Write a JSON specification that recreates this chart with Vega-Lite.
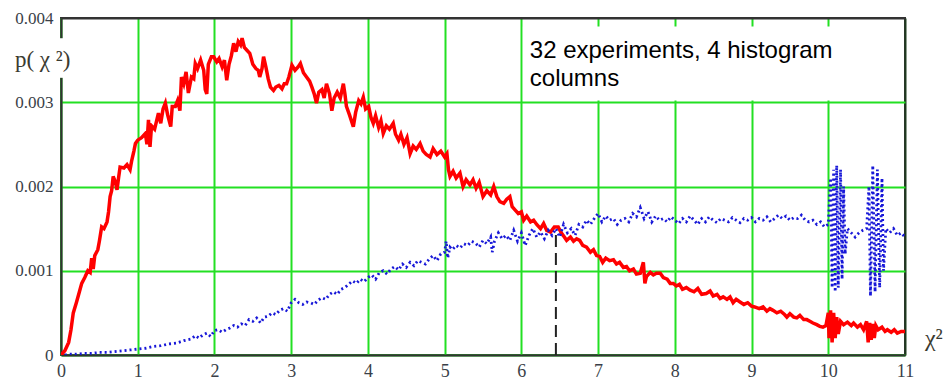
{
  "$schema": "https://vega.github.io/schema/vega-lite/v6.json",
  "width": 844,
  "height": 337,
  "autosize": "none",
  "padding": {"left": 61, "top": 18, "right": 40, "bottom": 28},
  "background": "white",
  "config": {
    "view": {"stroke": "#333333", "strokeWidth": 2},
    "axis": {
      "labelFont": "Liberation Serif, Times New Roman, serif",
      "labelFontSize": 17,
      "labelColor": "#3a3f48",
      "ticks": false,
      "domainColor": "#333333",
      "domainWidth": 2,
      "gridWidth": 2,
      "title": null
    }
  },
  "datasets": {
    "red": [
      {"x":0,"p":0},{"x":0.05,"p":0.00005},{"x":0.1,"p":0.00015},{"x":0.13,"p":0.0003},{"x":0.16,"p":0.0005},{"x":0.2,"p":0.00062},{"x":0.24,"p":0.00075},{"x":0.27,"p":0.00085},{"x":0.31,"p":0.00092},{"x":0.35,"p":0.001},{"x":0.38,"p":0.00098},{"x":0.4,"p":0.00115},{"x":0.42,"p":0.00102},{"x":0.44,"p":0.00118},{"x":0.48,"p":0.00125},{"x":0.5,"p":0.00135},{"x":0.53,"p":0.00152},{"x":0.56,"p":0.0015},{"x":0.6,"p":0.00158},{"x":0.62,"p":0.0017},{"x":0.64,"p":0.00188},{"x":0.66,"p":0.00195},{"x":0.68,"p":0.00212},{"x":0.71,"p":0.00205},{"x":0.73,"p":0.00196},{"x":0.75,"p":0.0021},{"x":0.77,"p":0.00223},{"x":0.82,"p":0.00222},{"x":0.86,"p":0.00226},{"x":0.9,"p":0.0022},{"x":0.92,"p":0.0023},{"x":0.95,"p":0.00242},{"x":0.97,"p":0.00251},{"x":1.0,"p":0.00255},{"x":1.05,"p":0.00258},{"x":1.1,"p":0.00263},{"x":1.12,"p":0.0025},{"x":1.14,"p":0.00279},{"x":1.16,"p":0.00247},{"x":1.18,"p":0.00272},{"x":1.22,"p":0.00268},{"x":1.27,"p":0.00287},{"x":1.3,"p":0.00275},{"x":1.33,"p":0.00292},{"x":1.36,"p":0.00299},{"x":1.39,"p":0.00285},{"x":1.43,"p":0.00271},{"x":1.45,"p":0.00295},{"x":1.49,"p":0.00295},{"x":1.52,"p":0.00302},{"x":1.55,"p":0.0029},{"x":1.57,"p":0.0033},{"x":1.6,"p":0.00322},{"x":1.63,"p":0.00336},{"x":1.66,"p":0.00311},{"x":1.7,"p":0.0033},{"x":1.73,"p":0.00328},{"x":1.75,"p":0.00346},{"x":1.78,"p":0.0034},{"x":1.82,"p":0.0035},{"x":1.86,"p":0.00338},{"x":1.88,"p":0.00315},{"x":1.9,"p":0.0031},{"x":1.92,"p":0.00345},{"x":1.96,"p":0.00354},{"x":1.99,"p":0.00354},{"x":2.03,"p":0.00348},{"x":2.06,"p":0.00352},{"x":2.1,"p":0.00342},{"x":2.13,"p":0.0035},{"x":2.16,"p":0.00326},{"x":2.19,"p":0.00345},{"x":2.22,"p":0.00355},{"x":2.25,"p":0.0037},{"x":2.28,"p":0.0036},{"x":2.31,"p":0.00372},{"x":2.34,"p":0.00368},{"x":2.36,"p":0.00376},{"x":2.39,"p":0.00365},{"x":2.42,"p":0.00362},{"x":2.46,"p":0.00358},{"x":2.5,"p":0.00345},{"x":2.54,"p":0.0034},{"x":2.57,"p":0.00338},{"x":2.59,"p":0.0033},{"x":2.62,"p":0.0034},{"x":2.64,"p":0.00354},{"x":2.67,"p":0.00342},{"x":2.7,"p":0.00328},{"x":2.73,"p":0.00318},{"x":2.77,"p":0.00314},{"x":2.8,"p":0.00318},{"x":2.84,"p":0.0032},{"x":2.88,"p":0.00316},{"x":2.91,"p":0.00322},{"x":2.94,"p":0.00322},{"x":2.97,"p":0.0033},{"x":3.01,"p":0.00344},{"x":3.05,"p":0.00338},{"x":3.09,"p":0.00342},{"x":3.12,"p":0.00346},{"x":3.16,"p":0.00335},{"x":3.2,"p":0.0033},{"x":3.24,"p":0.00325},{"x":3.27,"p":0.00318},{"x":3.3,"p":0.0031},{"x":3.33,"p":0.00299},{"x":3.36,"p":0.00312},{"x":3.4,"p":0.00315},{"x":3.43,"p":0.00305},{"x":3.46,"p":0.00322},{"x":3.5,"p":0.0031},{"x":3.53,"p":0.0029},{"x":3.56,"p":0.00305},{"x":3.6,"p":0.00312},{"x":3.64,"p":0.00305},{"x":3.68,"p":0.00322},{"x":3.7,"p":0.0031},{"x":3.72,"p":0.00295},{"x":3.76,"p":0.00285},{"x":3.81,"p":0.00271},{"x":3.84,"p":0.00288},{"x":3.88,"p":0.00302},{"x":3.91,"p":0.00298},{"x":3.94,"p":0.00306},{"x":3.97,"p":0.00292},{"x":4.01,"p":0.00295},{"x":4.04,"p":0.00282},{"x":4.07,"p":0.00275},{"x":4.1,"p":0.00284},{"x":4.14,"p":0.0027},{"x":4.17,"p":0.00278},{"x":4.2,"p":0.00263},{"x":4.24,"p":0.00272},{"x":4.28,"p":0.00268},{"x":4.33,"p":0.00275},{"x":4.36,"p":0.00262},{"x":4.4,"p":0.00255},{"x":4.43,"p":0.00262},{"x":4.47,"p":0.0025},{"x":4.51,"p":0.00258},{"x":4.55,"p":0.00239},{"x":4.59,"p":0.00248},{"x":4.63,"p":0.00244},{"x":4.68,"p":0.00251},{"x":4.72,"p":0.00242},{"x":4.76,"p":0.00238},{"x":4.81,"p":0.00235},{"x":4.85,"p":0.00245},{"x":4.9,"p":0.00238},{"x":4.95,"p":0.00242},{"x":5.0,"p":0.00235},{"x":5.03,"p":0.00239},{"x":5.05,"p":0.0022},{"x":5.07,"p":0.00212},{"x":5.11,"p":0.00218},{"x":5.15,"p":0.0021},{"x":5.2,"p":0.00216},{"x":5.24,"p":0.002},{"x":5.28,"p":0.00208},{"x":5.33,"p":0.00202},{"x":5.37,"p":0.00208},{"x":5.41,"p":0.00198},{"x":5.45,"p":0.00205},{"x":5.5,"p":0.00188},{"x":5.55,"p":0.00195},{"x":5.6,"p":0.0019},{"x":5.64,"p":0.002},{"x":5.68,"p":0.00188},{"x":5.72,"p":0.00182},{"x":5.77,"p":0.0018},{"x":5.81,"p":0.00185},{"x":5.85,"p":0.00188},{"x":5.88,"p":0.00176},{"x":5.92,"p":0.00172},{"x":5.96,"p":0.00168},{"x":6.0,"p":0.0017},{"x":6.03,"p":0.0016},{"x":6.07,"p":0.00165},{"x":6.12,"p":0.00158},{"x":6.16,"p":0.0016},{"x":6.2,"p":0.00155},{"x":6.25,"p":0.0015},{"x":6.29,"p":0.00156},{"x":6.33,"p":0.00148},{"x":6.38,"p":0.00146},{"x":6.43,"p":0.00152},{"x":6.48,"p":0.00152},{"x":6.52,"p":0.00145},{"x":6.56,"p":0.0014},{"x":6.59,"p":0.00136},{"x":6.64,"p":0.0014},{"x":6.68,"p":0.00135},{"x":6.72,"p":0.00138},{"x":6.76,"p":0.00136},{"x":6.8,"p":0.0013},{"x":6.85,"p":0.00128},{"x":6.9,"p":0.00122},{"x":6.94,"p":0.00125},{"x":6.98,"p":0.00118},{"x":7.02,"p":0.00117},{"x":7.06,"p":0.0011},{"x":7.1,"p":0.00115},{"x":7.15,"p":0.00112},{"x":7.2,"p":0.00113},{"x":7.24,"p":0.00108},{"x":7.28,"p":0.0011},{"x":7.33,"p":0.00104},{"x":7.37,"p":0.00105},{"x":7.41,"p":0.001},{"x":7.46,"p":0.00102},{"x":7.5,"p":0.00096},{"x":7.55,"p":0.00097},{"x":7.59,"p":0.0011},{"x":7.61,"p":0.00085},{"x":7.63,"p":0.00093},{"x":7.68,"p":0.00098},{"x":7.72,"p":0.00095},{"x":7.76,"p":0.00097},{"x":7.81,"p":0.00097},{"x":7.85,"p":0.00092},{"x":7.9,"p":0.0009},{"x":7.94,"p":0.00085},{"x":7.98,"p":0.00085},{"x":8.02,"p":0.00082},{"x":8.06,"p":0.00084},{"x":8.1,"p":0.00078},{"x":8.15,"p":0.0008},{"x":8.2,"p":0.00077},{"x":8.25,"p":0.00075},{"x":8.3,"p":0.00079},{"x":8.35,"p":0.00072},{"x":8.41,"p":0.00073},{"x":8.46,"p":0.00076},{"x":8.5,"p":0.0007},{"x":8.55,"p":0.00072},{"x":8.59,"p":0.00067},{"x":8.63,"p":0.00069},{"x":8.68,"p":0.00066},{"x":8.72,"p":0.00069},{"x":8.76,"p":0.00062},{"x":8.8,"p":0.00066},{"x":8.85,"p":0.00063},{"x":8.9,"p":0.0006},{"x":8.95,"p":0.00062},{"x":9.0,"p":0.00058},{"x":9.04,"p":0.00057},{"x":9.1,"p":0.00055},{"x":9.15,"p":0.00057},{"x":9.2,"p":0.00052},{"x":9.24,"p":0.00055},{"x":9.28,"p":0.00053},{"x":9.33,"p":0.0005},{"x":9.38,"p":0.00052},{"x":9.43,"p":0.00048},{"x":9.46,"p":0.00045},{"x":9.5,"p":0.00049},{"x":9.55,"p":0.00045},{"x":9.59,"p":0.00044},{"x":9.63,"p":0.00047},{"x":9.68,"p":0.00042},{"x":9.72,"p":0.00042},{"x":9.76,"p":0.0004},{"x":9.8,"p":0.00038},{"x":9.85,"p":0.00036},{"x":9.89,"p":0.00034},{"x":9.93,"p":0.00033},{"x":9.97,"p":0.00035},{"x":10.0,"p":0.0005},{"x":10.01,"p":0.0002},{"x":10.03,"p":0.00053},{"x":10.05,"p":0.00015},{"x":10.07,"p":0.0005},{"x":10.09,"p":0.0002},{"x":10.11,"p":0.00045},{"x":10.13,"p":0.00025},{"x":10.16,"p":0.0004},{"x":10.2,"p":0.00036},{"x":10.25,"p":0.00039},{"x":10.3,"p":0.00035},{"x":10.33,"p":0.00038},{"x":10.38,"p":0.00033},{"x":10.42,"p":0.00036},{"x":10.46,"p":0.0003},{"x":10.5,"p":0.0004},{"x":10.52,"p":0.00015},{"x":10.54,"p":0.00038},{"x":10.56,"p":0.00018},{"x":10.58,"p":0.00037},{"x":10.6,"p":0.0002},{"x":10.62,"p":0.00035},{"x":10.65,"p":0.0003},{"x":10.7,"p":0.00033},{"x":10.74,"p":0.00028},{"x":10.77,"p":0.0003},{"x":10.82,"p":0.00027},{"x":10.86,"p":0.0003},{"x":10.9,"p":0.00026},{"x":10.95,"p":0.00028},{"x":11.0,"p":0.00028}
    ],
    "blue": [
      {"x":0.05,"p":0.0},{"x":0.1,"p":0.00001},{"x":0.2,"p":0.00001},{"x":0.3,"p":0.00002},{"x":0.4,"p":0.00002},{"x":0.5,"p":0.00003},{"x":0.6,"p":0.00003},{"x":0.7,"p":0.00004},{"x":0.8,"p":0.00005},{"x":0.9,"p":0.00006},{"x":1.0,"p":0.00007},{"x":1.1,"p":0.00008},{"x":1.2,"p":0.0001},{"x":1.3,"p":0.00011},{"x":1.4,"p":0.00013},{"x":1.5,"p":0.00014},{"x":1.6,"p":0.00017},{"x":1.7,"p":0.00019},{"x":1.75,"p":0.00023},{"x":1.8,"p":0.0002},{"x":1.85,"p":0.00024},{"x":1.9,"p":0.00026},{"x":1.95,"p":0.00022},{"x":2.0,"p":0.00029},{"x":2.05,"p":0.0003},{"x":2.1,"p":0.00027},{"x":2.15,"p":0.0003},{"x":2.2,"p":0.00032},{"x":2.25,"p":0.00035},{"x":2.3,"p":0.00033},{"x":2.35,"p":0.00037},{"x":2.4,"p":0.00035},{"x":2.45,"p":0.00042},{"x":2.5,"p":0.0004},{"x":2.55,"p":0.00044},{"x":2.6,"p":0.00038},{"x":2.65,"p":0.00045},{"x":2.7,"p":0.00046},{"x":2.75,"p":0.0005},{"x":2.8,"p":0.00048},{"x":2.85,"p":0.00053},{"x":2.9,"p":0.00055},{"x":2.95,"p":0.00052},{"x":3.0,"p":0.00062},{"x":3.05,"p":0.00066},{"x":3.1,"p":0.00062},{"x":3.15,"p":0.0006},{"x":3.2,"p":0.00063},{"x":3.25,"p":0.00062},{"x":3.3,"p":0.0006},{"x":3.35,"p":0.00065},{"x":3.4,"p":0.00068},{"x":3.45,"p":0.00066},{"x":3.5,"p":0.00072},{"x":3.55,"p":0.00075},{"x":3.6,"p":0.00072},{"x":3.65,"p":0.00078},{"x":3.7,"p":0.0008},{"x":3.75,"p":0.00084},{"x":3.8,"p":0.00088},{"x":3.85,"p":0.00085},{"x":3.9,"p":0.0009},{"x":3.95,"p":0.00087},{"x":4.0,"p":0.00092},{"x":4.05,"p":0.00095},{"x":4.1,"p":0.0009},{"x":4.15,"p":0.00098},{"x":4.2,"p":0.001},{"x":4.25,"p":0.00096},{"x":4.3,"p":0.00102},{"x":4.35,"p":0.00105},{"x":4.4,"p":0.00101},{"x":4.45,"p":0.00108},{"x":4.5,"p":0.00104},{"x":4.55,"p":0.0011},{"x":4.6,"p":0.00106},{"x":4.65,"p":0.00112},{"x":4.7,"p":0.0011},{"x":4.75,"p":0.00108},{"x":4.8,"p":0.00114},{"x":4.85,"p":0.00118},{"x":4.9,"p":0.00112},{"x":4.95,"p":0.0012},{"x":5.0,"p":0.00122},{"x":5.02,"p":0.00135},{"x":5.04,"p":0.00115},{"x":5.07,"p":0.00128},{"x":5.1,"p":0.00125},{"x":5.15,"p":0.0013},{"x":5.2,"p":0.00127},{"x":5.25,"p":0.00132},{"x":5.3,"p":0.0013},{"x":5.35,"p":0.00135},{"x":5.4,"p":0.00133},{"x":5.45,"p":0.00128},{"x":5.5,"p":0.00136},{"x":5.55,"p":0.00132},{"x":5.6,"p":0.0014},{"x":5.62,"p":0.00122},{"x":5.65,"p":0.00135},{"x":5.7,"p":0.00145},{"x":5.75,"p":0.00138},{"x":5.8,"p":0.00142},{"x":5.85,"p":0.00136},{"x":5.9,"p":0.00148},{"x":5.95,"p":0.00135},{"x":6.0,"p":0.00145},{"x":6.05,"p":0.0013},{"x":6.1,"p":0.00142},{"x":6.15,"p":0.0015},{"x":6.2,"p":0.0014},{"x":6.25,"p":0.00146},{"x":6.3,"p":0.00138},{"x":6.35,"p":0.00148},{"x":6.4,"p":0.00142},{"x":6.45,"p":0.0015},{"x":6.5,"p":0.0014},{"x":6.55,"p":0.00155},{"x":6.6,"p":0.00145},{"x":6.65,"p":0.0015},{"x":6.7,"p":0.00142},{"x":6.75,"p":0.00155},{"x":6.8,"p":0.00152},{"x":6.85,"p":0.0016},{"x":6.9,"p":0.00155},{"x":6.95,"p":0.00162},{"x":7.0,"p":0.00168},{"x":7.05,"p":0.00158},{"x":7.1,"p":0.00165},{"x":7.15,"p":0.0016},{"x":7.2,"p":0.00162},{"x":7.25,"p":0.00155},{"x":7.3,"p":0.0016},{"x":7.35,"p":0.00162},{"x":7.4,"p":0.00158},{"x":7.45,"p":0.00168},{"x":7.5,"p":0.00164},{"x":7.55,"p":0.00175},{"x":7.6,"p":0.00162},{"x":7.65,"p":0.0017},{"x":7.7,"p":0.00158},{"x":7.75,"p":0.00165},{"x":7.8,"p":0.0016},{"x":7.85,"p":0.00162},{"x":7.9,"p":0.00158},{"x":7.95,"p":0.00164},{"x":8.0,"p":0.0016},{"x":8.05,"p":0.00156},{"x":8.1,"p":0.00162},{"x":8.15,"p":0.00158},{"x":8.2,"p":0.00165},{"x":8.25,"p":0.0016},{"x":8.3,"p":0.00155},{"x":8.35,"p":0.00162},{"x":8.4,"p":0.00158},{"x":8.45,"p":0.00164},{"x":8.5,"p":0.0016},{"x":8.55,"p":0.00157},{"x":8.6,"p":0.00162},{"x":8.65,"p":0.0016},{"x":8.7,"p":0.00158},{"x":8.75,"p":0.00163},{"x":8.8,"p":0.0016},{"x":8.85,"p":0.00157},{"x":8.9,"p":0.00162},{"x":8.95,"p":0.0016},{"x":9.0,"p":0.00163},{"x":9.05,"p":0.00158},{"x":9.1,"p":0.00162},{"x":9.15,"p":0.0016},{"x":9.2,"p":0.00164},{"x":9.25,"p":0.00158},{"x":9.3,"p":0.00162},{"x":9.35,"p":0.00166},{"x":9.4,"p":0.00162},{"x":9.45,"p":0.00165},{"x":9.5,"p":0.0016},{"x":9.55,"p":0.00163},{"x":9.6,"p":0.00162},{"x":9.65,"p":0.00166},{"x":9.7,"p":0.0016},{"x":9.75,"p":0.00158},{"x":9.8,"p":0.0016},{"x":9.85,"p":0.00155},{"x":9.9,"p":0.00158},{"x":9.95,"p":0.00152},{"x":10.0,"p":0.00155},{"x":10.03,"p":0.0021},{"x":10.05,"p":0.0008},{"x":10.07,"p":0.0022},{"x":10.09,"p":0.00075},{"x":10.11,"p":0.00225},{"x":10.13,"p":0.0008},{"x":10.16,"p":0.0022},{"x":10.18,"p":0.0009},{"x":10.2,"p":0.002},{"x":10.22,"p":0.0012},{"x":10.25,"p":0.0015},{"x":10.3,"p":0.00145},{"x":10.35,"p":0.0014},{"x":10.4,"p":0.00145},{"x":10.45,"p":0.00148},{"x":10.5,"p":0.0015},{"x":10.53,"p":0.002},{"x":10.55,"p":0.0007},{"x":10.58,"p":0.00225},{"x":10.61,"p":0.00075},{"x":10.64,"p":0.0022},{"x":10.67,"p":0.0008},{"x":10.7,"p":0.0021},{"x":10.72,"p":0.001},{"x":10.75,"p":0.0015},{"x":10.8,"p":0.00145},{"x":10.85,"p":0.0015},{"x":10.9,"p":0.00142},{"x":10.95,"p":0.00145},{"x":11.0,"p":0.0014}
    ]
  },
  "layer": [
    {
      "data": {"name": "red"},
      "mark": {"type": "line", "color": "#ff0000", "strokeWidth": 3.5, "clip": true},
      "encoding": {
        "x": {"field": "x", "type": "quantitative", "scale": {"domain": [0, 11], "nice": false},
          "axis": {"values": [0,1,2,3,4,5,6,7,8,9,10,11], "format": "d", "labelFlush": false, "labelPadding": 7,
            "labelFont": "Liberation Serif, Times New Roman, serif", "labelFontSize": 18,
            "gridColor": {"condition": {"test": "datum.value >= 11", "value": "#1f3a1f"}, "value": "#22e022"}}},
        "y": {"field": "p", "type": "quantitative", "scale": {"domain": [0, 0.004], "nice": false},
          "axis": {"values": [0, 0.001, 0.002, 0.003, 0.004], "labelPadding": 8,
            "labelFont": "Liberation Serif, Times New Roman, serif", "labelFontSize": 17,
            "labelExpr": "datum.value == 0 ? '0' : format(datum.value, '.3f')",
            "gridColor": {"condition": {"test": "datum.value >= 0.004", "value": "#333333"}, "value": "#22e022"}}}
      }
    },
    {
      "data": {"name": "blue"},
      "mark": {"type": "line", "color": "#1818d8", "strokeWidth": 2.8, "strokeDash": [2, 3], "clip": true},
      "encoding": {
        "x": {"field": "x", "type": "quantitative"},
        "y": {"field": "p", "type": "quantitative"}
      }
    },
    {
      "data": {"values": [{}]},
      "mark": {"type": "rect", "fill": "white", "stroke": null},
      "encoding": {
        "x": {"datum": 6.02, "type": "quantitative"},
        "x2": {"datum": 10.98},
        "y": {"datum": 0.00302, "type": "quantitative"},
        "y2": {"datum": 0.0039}
      }
    },
    {
      "data": {"values": [{}]},
      "mark": {"type": "rule", "color": "#222222", "strokeWidth": 2, "strokeDash": [12, 6]},
      "encoding": {
        "x": {"datum": 6.45, "type": "quantitative"},
        "y": {"datum": 0, "type": "quantitative"},
        "y2": {"datum": 0.00145}
      }
    },
    {
      "data": {"values": [{}]},
      "mark": {"type": "rect", "fill": "white", "stroke": null, "clip": false},
      "encoding": {
        "x": {"datum": -0.06, "type": "quantitative"},
        "x2": {"datum": 0.03},
        "y": {"datum": 0.00329, "type": "quantitative"},
        "y2": {"datum": 0.00376}
      }
    },
    {
      "data": {"values": [{}]},
      "mark": {"type": "text", "font": "Liberation Sans", "fontSize": 24, "lineHeight": 28, "align": "left", "baseline": "alphabetic", "color": "#000000"},
      "encoding": {
        "x": {"datum": 6.11, "type": "quantitative"},
        "y": {"datum": 0.003523, "type": "quantitative"},
        "text": {"value": ["32 experiments,  4 histogram", "columns"]}
      }
    },
    {
      "data": {"values": [{}]},
      "mark": {"type": "text", "font": "Liberation Serif", "fontSize": 23, "align": "left", "baseline": "alphabetic", "color": "#3a3a30", "clip": false},
      "encoding": {
        "x": {"datum": -0.6, "type": "quantitative"},
        "y": {"datum": 0.003416, "type": "quantitative"},
        "text": {"value": "p( χ ²)"}
      }
    },
    {
      "data": {"values": [{}]},
      "mark": {"type": "text", "font": "Liberation Serif", "fontSize": 24, "align": "left", "baseline": "alphabetic", "color": "#3a3a30", "clip": false},
      "encoding": {
        "x": {"datum": 11.26, "type": "quantitative"},
        "y": {"datum": 0.000107, "type": "quantitative"},
        "text": {"value": "χ²"}
      }
    }
  ]
}
